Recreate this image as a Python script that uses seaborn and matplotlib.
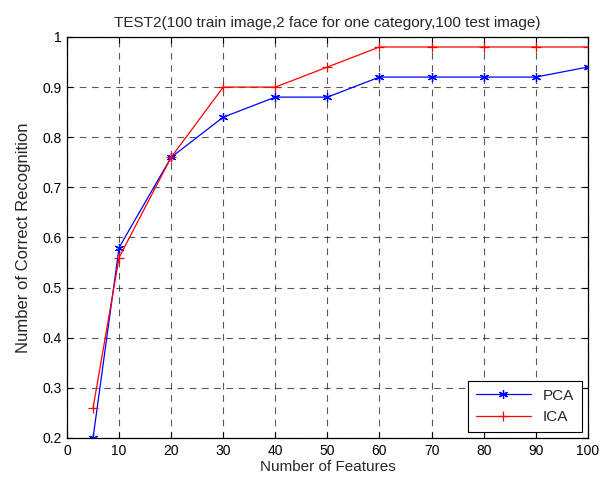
import numpy as np
import pandas as pd
import seaborn as sns
import matplotlib.pyplot as plt
import matplotlib.ticker as ticker

# data
features = [5, 10, 20, 30, 40, 50, 60, 70, 80, 90, 100]
pca = [0.20, 0.58, 0.76, 0.84, 0.88, 0.88, 0.92, 0.92, 0.92, 0.92, 0.94]
ica = [0.26, 0.56, 0.76, 0.90, 0.90, 0.94, 0.98, 0.98, 0.98, 0.98, 0.98]

sns.set_theme(style="white")
plt.rcParams['font.family'] = ['Liberation Sans', 'DejaVu Sans']
plt.rcParams['font.size'] = 10

fig = plt.figure(figsize=(6.07, 4.82), dpi=100)
ax = fig.add_axes([0.1104, 0.0913, 0.858, 0.832])

BLUE = '#0000ff'
RED = '#ff0000'
sns.lineplot(x=features, y=pca, color=BLUE, marker=(6, 2, 0), markersize=6.5,
             markeredgewidth=0.9, markeredgecolor=BLUE, linewidth=0.9,
             label='PCA', ax=ax)
sns.lineplot(x=features, y=ica, color=RED, marker='+', markersize=7.5,
             markeredgewidth=0.9, markeredgecolor=RED, linewidth=0.9,
             label='ICA', ax=ax)

ax.set_xlim(0, 100)
ax.set_ylim(0.2, 1.0)
ax.xaxis.set_major_locator(ticker.MultipleLocator(10))
ax.yaxis.set_major_locator(ticker.MultipleLocator(0.1))
ax.yaxis.set_major_formatter(ticker.FuncFormatter(lambda v, p: '{:g}'.format(round(v, 2))))
ax.grid(True, color='#222222', linestyle=(0, (6, 5)), linewidth=0.8, alpha=0.75)
ax.tick_params(direction='in', length=4, width=0.8, colors='black', labelsize=10,
               top=True, right=True, bottom=True, left=True, pad=4)
for s in ax.spines.values():
    s.set_color('black')
    s.set_linewidth(0.9)

ax.set_title('TEST2(100 train image,2 face for one category,100 test image)', fontsize=11, pad=7)
ax.set_xlabel('Number of Features', fontsize=11, labelpad=2)
ax.set_ylabel('Number of Correct Recognition', fontsize=12, labelpad=8)

leg = ax.legend(loc='lower right', fontsize=11, frameon=True, fancybox=False,
                edgecolor='black', framealpha=1, handlelength=3.6,
                borderaxespad=0.4, labelspacing=0.5, borderpad=0.5)
leg.get_frame().set_linewidth(0.8)

fig.savefig('out.png', dpi=100)
